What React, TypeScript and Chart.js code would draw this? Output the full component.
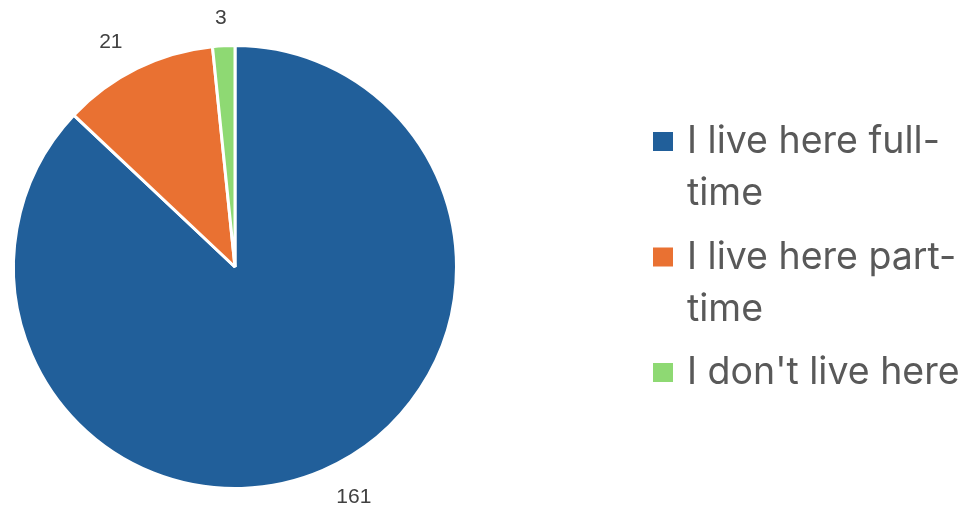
import React, { useEffect, useRef } from "react";
import { Chart, registerables } from "chart.js";

Chart.register(...registerables);

const categories = ["I live here full-time", "I live here part-time", "I don't live here"];
const counts = [161, 21, 3];
const colors = ["#215F9A", "#E97132", "#8ED973"];

const LEGEND_FONT = "37.5px Inter, 'Open Sans', sans-serif";

function wrapLabel(ctx: CanvasRenderingContext2D, text: string, maxW: number): string[] {
  const tokens = text.match(/[^\s-]+-?\s*|\s+/g) || [text];
  const lines: string[] = [];
  let cur = "";
  for (const t of tokens) {
    const test = cur + t;
    if (cur && ctx.measureText(test.trimEnd()).width > maxW) {
      lines.push(cur.trimEnd());
      cur = t.trimStart();
    } else {
      cur = test;
    }
  }
  if (cur) lines.push(cur.trimEnd());
  return lines;
}

const outsideLabels = {
  id: "outsideLabels",
  afterDatasetsDraw(chart: any) {
    const ctx = chart.ctx as CanvasRenderingContext2D;
    const meta = chart.getDatasetMeta(0);
    ctx.save();
    ctx.font = "21px 'Liberation Sans', Arial, sans-serif";
    ctx.fillStyle = "#404040";
    ctx.textAlign = "center";
    ctx.textBaseline = "middle";
    meta.data.forEach((arc: any, i: number) => {
      const p = arc.getProps(["x", "y", "startAngle", "endAngle", "outerRadius"], true);
      const mid = (p.startAngle + p.endAngle) / 2;
      const dx = Math.cos(mid);
      const dy = Math.sin(mid);
      const r = p.outerRadius + 19;
      const ax = p.x + dx * r;
      const ay = p.y + dy * r;
      const text = String(chart.data.datasets[0].data[i]);
      const w = ctx.measureText(text).width;
      const h = 18;
      const sx = Math.max(-1, Math.min(1, dx * 3));
      const sy = Math.max(-1, Math.min(1, dy * 3));
      ctx.fillText(text, ax + sx * (w / 2 + 6), ay + (sy * h) / 2);
    });
    ctx.restore();
  },
};

const sideLegend = {
  id: "sideLegend",
  afterDraw(chart: any) {
    const ctx = chart.ctx as CanvasRenderingContext2D;
    ctx.save();
    ctx.font = LEGEND_FONT;
    ctx.textAlign = "left";
    ctx.textBaseline = "alphabetic";
    const boxX = 653;
    const textX = 687;
    const lineH = 52;
    const itemGap = 11.5;
    let baseline = 153;
    const labels: string[] = chart.data.labels;
    labels.forEach((lab, i) => {
      const lines = wrapLabel(ctx, lab, 274);
      ctx.fillStyle = colors[i];
      ctx.fillRect(boxX, baseline - 21, 20, 19);
      ctx.fillStyle = "#595959";
      lines.forEach((ln, j) => {
        ctx.fillText(ln, textX, baseline + j * lineH);
      });
      baseline += lines.length * lineH + itemGap;
    });
    ctx.restore();
  },
};

export default function App() {
  const ref = useRef<HTMLCanvasElement | null>(null);
  useEffect(() => {
    if (!ref.current) return;
    const chart = new Chart(ref.current, {
      type: "pie",
      data: {
        labels: categories,
        datasets: [
          {
            data: counts,
            backgroundColor: colors,
            borderColor: "#ffffff",
            borderWidth: 3,
            hoverOffset: 0,
          },
        ],
      },
      options: {
        animation: false,
        responsive: false,
        events: [],
        layout: { padding: { left: 12, top: 44, right: 508, bottom: 20 } },
        plugins: {
          legend: { display: false },
          tooltip: { enabled: false },
        },
      },
      plugins: [outsideLabels, sideLegend],
    });
    return () => chart.destroy();
  }, []);
  return (
    <div style={{ position: "fixed", left: 0, top: 0, width: 966, height: 510, background: "#fff" }}>
      <canvas ref={ref} width={966} height={510} style={{ width: 966, height: 510 }} />
    </div>
  );
}
